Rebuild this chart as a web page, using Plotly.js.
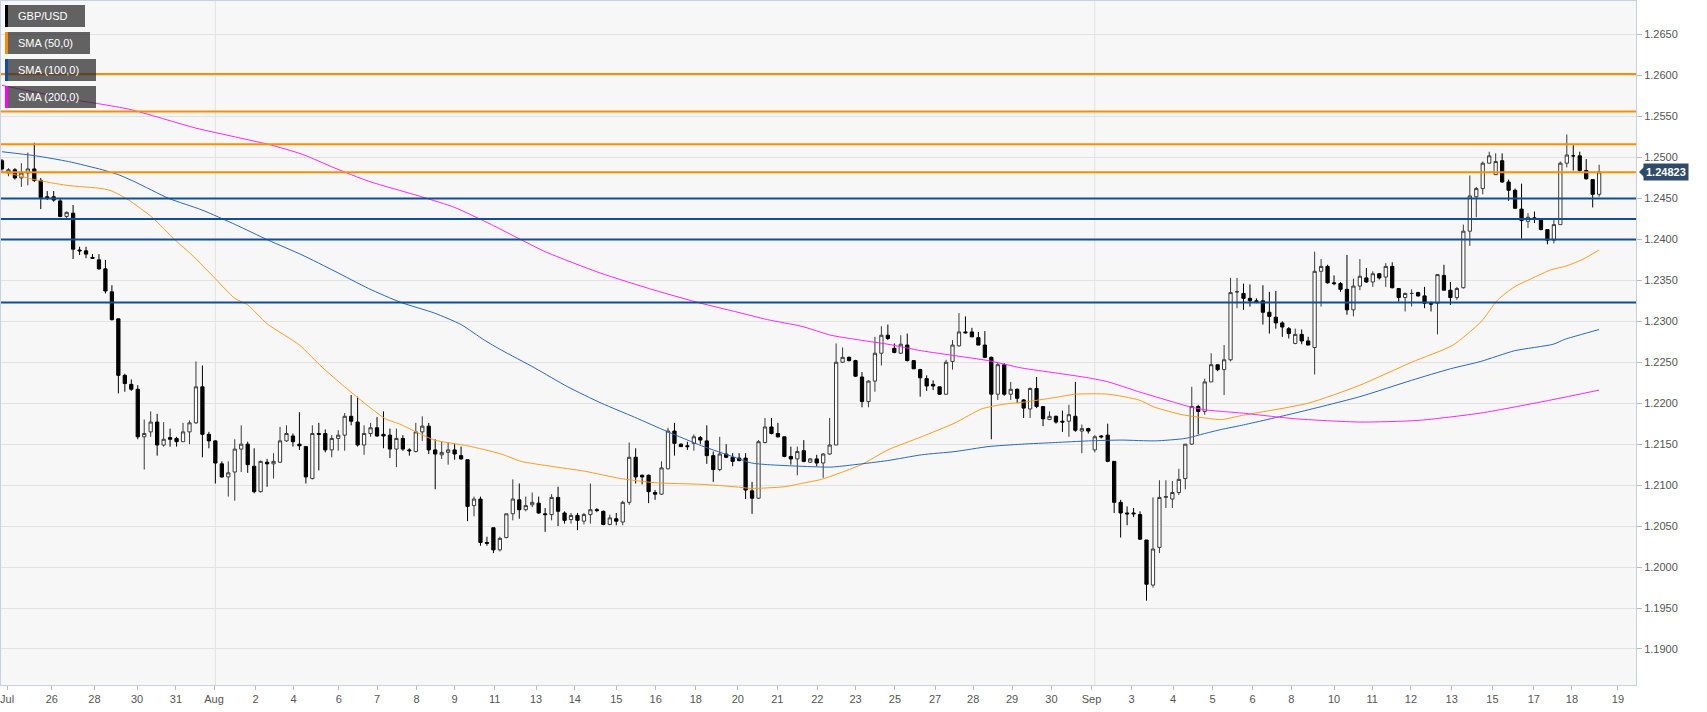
<!DOCTYPE html>
<html>
<head>
<meta charset="utf-8">
<script src="https://cdn.plot.ly/plotly-3.0.1.min.js"></script>
<style>
html,body{margin:0;padding:0;background:#fff;}
#chart{width:1707px;height:712px;}
</style>
</head>
<body>
<div id="chart"></div>
<script>
// ---- GBP/USD 4H candles (open, high, low, close) ----
const opens = [
1.2496,1.2481,1.2485,1.2475,1.2481,1.2486,1.2472,1.2452,1.2452,1.2447,
1.2428,1.2432,1.2387,1.2386,1.2378,1.2375,1.2364,1.2336,1.2303,1.2234,
1.2223,1.2217,1.2159,1.2165,1.2177,1.2149,1.2158,1.2157,1.2153,1.2165,
1.2176,1.2220,1.2162,1.2154,1.2126,1.2110,1.2116,1.2144,1.2150,1.2123,
1.2092,1.2128,1.2126,1.2128,1.2154,1.2160,1.2150,1.2147,1.2108,1.2163,
1.2163,1.2143,1.2157,1.2161,1.2184,1.2177,1.2149,1.2163,1.2170,1.2162,
1.2161,1.2144,1.2157,1.2143,1.2141,1.2165,1.2172,1.2143,1.2137,1.2140,
1.2143,1.2136,1.2131,1.2075,1.2083,1.2030,1.2048,1.2021,1.2036,1.2065,
1.2082,1.2070,1.2076,1.2078,1.2065,1.2064,1.2085,1.2066,1.2058,1.2063,
1.2056,1.2064,1.2070,1.2068,1.2052,1.2059,1.2055,1.2079,1.2134,1.2112,
1.2112,1.2091,1.2089,1.2120,1.2166,1.2150,1.2148,1.2151,1.2158,1.2154,
1.2136,1.2119,1.2138,1.2134,1.2133,1.2133,1.2093,1.2084,1.2152,1.2171,
1.2163,1.2159,1.2135,1.2132,1.2142,1.2128,1.2132,1.2127,1.2138,1.2149,
1.2250,1.2256,1.2252,1.2232,1.2202,1.2227,1.2261,1.2283,1.2267,1.2261,
1.2271,1.2252,1.2241,1.2230,1.2223,1.2220,1.2211,1.2251,1.2270,1.2287,
1.2287,1.2280,1.2271,1.2256,1.2211,1.2247,1.2211,1.2217,1.2204,1.2193,
1.2218,1.2196,1.2180,1.2184,1.2178,1.2178,1.2184,1.2166,1.2169,1.2143,
1.2160,1.2161,1.2129,1.2079,1.2066,1.2066,1.2064,1.2033,1.1978,1.2024,
1.2085,1.2083,1.2091,1.2108,1.2150,1.2196,1.2190,1.2226,1.2247,1.2241,
1.2253,1.2336,1.2334,1.2328,1.2325,1.2325,1.2311,1.2305,1.2298,1.2291,
1.2273,1.2284,1.2276,1.2268,1.2361,1.2367,1.2347,1.2346,1.2339,1.2314,
1.2343,1.2353,1.2348,1.2358,1.2354,1.2367,1.2340,1.2329,1.2334,1.2335,
1.2331,1.2322,1.2322,1.2356,1.2338,1.2329,1.2341,1.2410,1.2452,1.2462,
1.2493,1.2479,1.2496,1.2470,1.2460,1.2437,1.2422,1.2426,1.2425,1.2412,
1.2399,1.2418,1.2493,1.2502,1.2502,1.2484,1.2473,1.2455
];
const highs = [
1.2498,1.2487,1.2487,1.2493,1.2506,1.2518,1.2475,1.2459,1.2459,1.2450,
1.2434,1.2442,1.2391,1.2391,1.2382,1.2382,1.2375,1.2344,1.2303,1.2236,
1.2229,1.2222,1.2180,1.2190,1.2187,1.2177,1.2169,1.2159,1.2176,1.2179,
1.2251,1.2246,1.2165,1.2155,1.2129,1.2129,1.2156,1.2173,1.2153,1.2145,
1.2130,1.2132,1.2139,1.2171,1.2173,1.2163,1.2189,1.2147,1.2173,1.2176,
1.2168,1.2161,1.2167,1.2188,1.2210,1.2208,1.2173,1.2176,1.2183,1.2190,
1.2169,1.2169,1.2161,1.2145,1.2176,1.2184,1.2176,1.2156,1.2153,1.2152,
1.2150,1.2147,1.2131,1.2086,1.2086,1.2037,1.2048,1.2037,1.2065,1.2107,
1.2102,1.2086,1.2091,1.2086,1.2072,1.2089,1.2098,1.2068,1.2066,1.2066,
1.2066,1.2102,1.2072,1.2069,1.2064,1.2066,1.2081,1.2152,1.2145,1.2113,
1.2113,1.2094,1.2129,1.2170,1.2176,1.2151,1.2153,1.2162,1.2160,1.2173,
1.2141,1.2159,1.2150,1.2139,1.2139,1.2139,1.2104,1.2155,1.2182,1.2182,
1.2176,1.2159,1.2147,1.2147,1.2155,1.2133,1.2137,1.2139,1.2182,1.2273,
1.2268,1.2257,1.2253,1.2238,1.2228,1.2281,1.2294,1.2296,1.2273,1.2283,
1.2285,1.2252,1.2242,1.2234,1.2228,1.2220,1.2253,1.2277,1.2310,1.2306,
1.2292,1.2287,1.2288,1.2257,1.2249,1.2249,1.2226,1.2218,1.2205,1.2219,
1.2232,1.2196,1.2190,1.2185,1.2191,1.2198,1.2226,1.2174,1.2170,1.2161,
1.2161,1.2175,1.2129,1.2082,1.2074,1.2072,1.2068,1.2033,1.2085,1.2106,
1.2106,1.2105,1.2120,1.2150,1.2220,1.2198,1.2230,1.2261,1.2247,1.2271,
1.2353,1.2353,1.2346,1.2345,1.2328,1.2344,1.2336,1.2337,1.2300,1.2293,
1.2291,1.2290,1.2281,1.2385,1.2376,1.2369,1.2356,1.2348,1.2381,1.2352,
1.2376,1.2365,1.2361,1.2359,1.2371,1.2372,1.2340,1.2335,1.2339,1.2336,
1.2342,1.2324,1.2357,1.2369,1.2348,1.2342,1.2418,1.2478,1.2464,1.2495,
1.2507,1.2505,1.2505,1.2473,1.2462,1.2468,1.2432,1.2434,1.2426,1.2412,
1.2424,1.2495,1.2528,1.2515,1.2507,1.2498,1.2473,1.2491
];
const lows = [
1.2484,1.2477,1.2473,1.2464,1.2466,1.2470,1.2437,1.2448,1.2446,1.2427,
1.2426,1.2376,1.2381,1.2377,1.2376,1.2363,1.2334,1.2301,1.2212,1.2214,
1.2215,1.2156,1.2119,1.2159,1.2136,1.2147,1.2147,1.2147,1.2153,1.2150,
1.2175,1.2134,1.2145,1.2102,1.2109,1.2086,1.2081,1.2116,1.2115,1.2090,
1.2091,1.2098,1.2108,1.2127,1.2153,1.2147,1.2143,1.2102,1.2107,1.2118,
1.2140,1.2134,1.2142,1.2142,1.2173,1.2147,1.2137,1.2159,1.2159,1.2145,
1.2133,1.2122,1.2142,1.2136,1.2140,1.2154,1.2138,1.2095,1.2132,1.2125,
1.2131,1.2131,1.2056,1.2062,1.2026,1.2026,1.2017,1.2019,1.2035,1.2057,
1.2059,1.2068,1.2073,1.2065,1.2043,1.2057,1.2050,1.2053,1.2053,1.2045,
1.2052,1.2053,1.2067,1.2051,1.2051,1.2051,1.2051,1.2076,1.2102,1.2101,
1.2078,1.2082,1.2088,1.2119,1.2136,1.2147,1.2143,1.2142,1.2150,1.2126,
1.2104,1.2117,1.2133,1.2123,1.2129,1.2083,1.2065,1.2083,1.2151,1.2162,
1.2158,1.2134,1.2125,1.2112,1.2128,1.2127,1.2123,1.2109,1.2137,1.2149,
1.2249,1.2251,1.2232,1.2195,1.2195,1.2214,1.2246,1.2277,1.2261,1.2260,
1.2251,1.2242,1.2208,1.2215,1.2216,1.2210,1.2210,1.2241,1.2269,1.2285,
1.2281,1.2271,1.2255,1.2156,1.2204,1.2209,1.2204,1.2200,1.2182,1.2182,
1.2194,1.2172,1.2180,1.2175,1.2165,1.2159,1.2165,1.2139,1.2163,1.2140,
1.2157,1.2128,1.2066,1.2036,1.2051,1.2061,1.2033,1.1959,1.1975,1.2017,
1.2072,1.2072,1.2088,1.2095,1.2149,1.2162,1.2186,1.2226,1.2239,1.2210,
1.2251,1.2316,1.2314,1.2318,1.2322,1.2296,1.2285,1.2291,1.2281,1.2279,
1.2272,1.2272,1.2271,1.2235,1.2318,1.2346,1.2344,1.2336,1.2308,1.2306,
1.2338,1.2347,1.2342,1.2351,1.2342,1.2340,1.2324,1.2312,1.2318,1.2330,
1.2316,1.2312,1.2284,1.2338,1.2320,1.2326,1.2340,1.2392,1.2427,1.2455,
1.2493,1.2479,1.2469,1.2447,1.2437,1.2401,1.2414,1.2420,1.2411,1.2394,
1.2395,1.2418,1.2488,1.2484,1.2483,1.2473,1.2439,1.2452
];
const closes = [
1.2486,1.2485,1.2475,1.2481,1.2486,1.2472,1.2451,1.2451,1.2448,1.2428,
1.2433,1.2388,1.2386,1.2382,1.2377,1.2364,1.2337,1.2302,1.2234,1.2224,
1.2217,1.2159,1.2163,1.2177,1.2149,1.2156,1.2156,1.2153,1.2165,1.2176,
1.2220,1.2162,1.2154,1.2127,1.2110,1.2115,1.2144,1.2150,1.2125,1.2092,
1.2129,1.2126,1.2129,1.2154,1.2163,1.2153,1.2148,1.2110,1.2163,1.2162,
1.2143,1.2157,1.2161,1.2184,1.2178,1.2149,1.2163,1.2170,1.2160,1.2160,
1.2144,1.2157,1.2144,1.2142,1.2165,1.2172,1.2143,1.2138,1.2140,1.2143,
1.2138,1.2132,1.2074,1.2083,1.2030,1.2029,1.2021,1.2035,1.2065,1.2083,
1.2070,1.2075,1.2079,1.2066,1.2064,1.2085,1.2068,1.2057,1.2063,1.2057,
1.2064,1.2070,1.2069,1.2052,1.2060,1.2056,1.2079,1.2134,1.2110,1.2110,
1.2092,1.2089,1.2121,1.2166,1.2151,1.2147,1.2147,1.2159,1.2155,1.2136,
1.2119,1.2138,1.2134,1.2129,1.2130,1.2094,1.2084,1.2153,1.2171,1.2163,
1.2159,1.2135,1.2132,1.2141,1.2129,1.2132,1.2127,1.2138,1.2149,1.2250,
1.2256,1.2252,1.2233,1.2202,1.2227,1.2261,1.2283,1.2279,1.2262,1.2272,
1.2252,1.2242,1.2231,1.2221,1.2221,1.2211,1.2250,1.2271,1.2287,1.2286,
1.2281,1.2271,1.2256,1.2211,1.2247,1.2211,1.2217,1.2206,1.2194,1.2218,
1.2196,1.2181,1.2184,1.2177,1.2177,1.2186,1.2167,1.2169,1.2166,1.2159,
1.2159,1.2129,1.2079,1.2066,1.2065,1.2065,1.2034,1.1979,1.2022,1.2085,
1.2086,1.2091,1.2107,1.2150,1.2196,1.2190,1.2226,1.2247,1.2241,1.2253,
1.2335,1.2336,1.2328,1.2325,1.2324,1.2311,1.2306,1.2298,1.2293,1.2285,
1.2284,1.2276,1.2271,1.2361,1.2367,1.2347,1.2346,1.2339,1.2314,1.2343,
1.2355,1.2348,1.2358,1.2353,1.2367,1.2341,1.2329,1.2334,1.2334,1.2331,
1.2322,1.2321,1.2357,1.2338,1.2329,1.2340,1.2410,1.2453,1.2462,1.2493,
1.2502,1.2495,1.2470,1.2460,1.2438,1.2423,1.2427,1.2426,1.2412,1.2399,
1.2418,1.2493,1.2503,1.2502,1.2484,1.2474,1.2455,1.24823
];

// ---- moving averages (candle index, value) ----
const sma50X = [0,5,10,15.5,17,19.6,23.2,26.8,29.4,33,36,38,41,46,49.5,53,56.7,59.3,61.7,64.3,66.9,72,77.2,80.3,84.9,90.1,95.7,100.9,108.1,113.3,115.9,121,123.6,126.7,129.3,132.9,137,142.2,147.4,151.5,155.1,157.7,162.9,166,171.1,175.8,178.3,182.5,186,188.6,191.7,202,210,218,224.4,228.8,231.3,233.9,236.5,239.6,241.7,244.3,247];
const sma50Y = [1.2483,1.2473,1.2466,1.2462,1.2459,1.2448,1.2427,1.2399,1.2381,1.2352,1.2328,1.2320,1.2297,1.2271,1.2244,1.2220,1.2196,1.2181,1.2174,1.2164,1.2155,1.2148,1.2138,1.2129,1.2123,1.2117,1.2108,1.2103,1.2101,1.2098,1.2096,1.2098,1.2102,1.2107,1.2114,1.2125,1.2143,1.2159,1.2176,1.2193,1.2199,1.2201,1.2207,1.2211,1.2211,1.2204,1.2195,1.2186,1.2182,1.2180,1.2185,1.2200,1.2222,1.2250,1.2271,1.2300,1.2326,1.2342,1.2352,1.2363,1.2367,1.2375,1.2387];
const sma100X = [0,5.2,10.3,15.5,18,20.6,25.8,30.9,36.1,41.2,46.4,51.5,56.7,61.7,66.9,71,74.6,77.2,82.4,87.5,92.7,97.8,103,108.2,113.3,115.9,118.4,123.6,128.2,131.9,137,142.2,147.4,152.5,157.7,162.9,168,173.2,178.3,183,186,188.6,191.7,200,210,218,224,228.7,233.9,239.9,241.7,244.3,247];
const sma100Y = [1.2507,1.2502,1.2495,1.2485,1.2479,1.2470,1.2450,1.2436,1.2418,1.2399,1.2381,1.2361,1.2340,1.2323,1.2310,1.2296,1.2277,1.2265,1.2243,1.2220,1.2200,1.2183,1.2165,1.2148,1.2134,1.2127,1.2125,1.2123,1.2122,1.2125,1.2130,1.2137,1.2141,1.2147,1.2150,1.2152,1.2154,1.2155,1.2154,1.2157,1.2163,1.2168,1.2173,1.2188,1.2208,1.2228,1.2242,1.2251,1.2264,1.2272,1.2278,1.2284,1.2290];
const sma200X = [0,10,19.6,29.9,36.1,41.2,46.4,51.5,56.7,64.9,70,75.7,84,92.5,100.9,108.1,113.3,118.4,123.6,128.2,131.9,137,142.2,147.4,152.5,157.7,162.9,168,171.1,175.8,180.9,183.5,186,188.6,191.7,200,210,219,228.7,239.6,247];
const sma200Y = [1.2588,1.2572,1.2559,1.2536,1.2525,1.2516,1.2504,1.2487,1.2471,1.2452,1.2439,1.2418,1.2385,1.2359,1.2338,1.2322,1.2312,1.2302,1.2294,1.2283,1.2278,1.2272,1.2264,1.2258,1.2252,1.2243,1.2237,1.2231,1.2226,1.2214,1.2202,1.2196,1.2192,1.2190,1.2188,1.2181,1.2177,1.2179,1.2188,1.2204,1.2216];

// ---- horizontal levels ----
const levelsOrange = [1.2602, 1.2556, 1.2516, 1.2482];
const levelsBlue = [1.2450, 1.2425, 1.2400, 1.2323];

// ---- x-axis day labels (candle index of each label) ----
const tickText = ['Jul','26','28','30','31','Aug','2','4','6','7','8','9','11','13','14','15','16','18','20','21','22','23','25','27','28','29','30','Sep','3','4','5','6','8','10','11','12','13','15','17','18','19'];
const tickPos = [0.8,7.7,14.3,20.9,26.9,32.8,39.2,45.1,52.1,58.0,64.1,70.0,76.2,82.6,88.6,95.0,101.1,107.3,113.8,119.9,126.1,132.0,138.1,144.3,150.2,156.2,162.3,168.5,174.7,181.1,187.2,193.4,199.4,206.0,211.9,217.9,224.2,230.5,236.9,242.8,249.9];
const monthStarts = [33, 169];

// ---- legend entries ----
const legendNames = ['GBP/USD', 'SMA (50,0)', 'SMA (100,0)', 'SMA (200,0)'];
const legendColors = ['#000000', '#ff8c00', '#0b4ea2', '#ff00ff'];
const legendWidths = [77, 82, 88, 88];

const idx = opens.map((_, i) => i);
const lastClose = closes[closes.length - 1];

const FONT = 'Liberation Sans, Arial, sans-serif';

const traces = [
  {
    type: 'candlestick', x: idx, open: opens, high: highs, low: lows, close: closes,
    increasing: {line: {color: '#3a3a3a', width: 1}, fillcolor: '#ffffff'},
    decreasing: {line: {color: '#000000', width: 1}, fillcolor: '#000000'},
    whiskerwidth: 0, hoverinfo: 'skip', showlegend: false
  },
  {type: 'scatter', mode: 'lines', x: sma50X, y: sma50Y, line: {color: '#ff9a1f', width: 1, shape: 'spline', smoothing: 0.6}, hoverinfo: 'skip', showlegend: false},
  {type: 'scatter', mode: 'lines', x: sma100X, y: sma100Y, line: {color: '#2a67c0', width: 1, shape: 'spline', smoothing: 0.6}, hoverinfo: 'skip', showlegend: false},
  {type: 'scatter', mode: 'lines', x: sma200X, y: sma200Y, line: {color: '#ff22ff', width: 1, shape: 'spline', smoothing: 0.6}, hoverinfo: 'skip', showlegend: false}
];

const shapes = [];
monthStarts.forEach(m => shapes.push({type: 'line', xref: 'x', yref: 'paper', x0: m, x1: m, y0: 0, y1: 1, line: {color: '#e3e3e3', width: 1}, layer: 'below'}));
levelsOrange.forEach(v => shapes.push({type: 'line', xref: 'paper', yref: 'y', x0: 0, x1: 1, y0: v, y1: v, line: {color: '#ff8c00', width: 2}, layer: 'above'}));
levelsBlue.forEach(v => shapes.push({type: 'line', xref: 'paper', yref: 'y', x0: 0, x1: 1, y0: v, y1: v, line: {color: '#0b4ea2', width: 2}, layer: 'above'}));

const annotations = [];
legendNames.forEach((name, k) => {
  const top = -4 - 27 * k, bot = -26 - 27 * k;
  shapes.push({type: 'rect', xref: 'paper', yref: 'paper', xsizemode: 'pixel', ysizemode: 'pixel', xanchor: 0, yanchor: 1,
    x0: 7, x1: 7 + legendWidths[k], y0: bot, y1: top, fillcolor: 'rgba(40,40,40,0.72)', line: {width: 0}, layer: 'above'});
  shapes.push({type: 'rect', xref: 'paper', yref: 'paper', xsizemode: 'pixel', ysizemode: 'pixel', xanchor: 0, yanchor: 1,
    x0: 4, x1: 7, y0: bot, y1: top, fillcolor: legendColors[k], line: {width: 0}, layer: 'above'});
  annotations.push({xref: 'paper', yref: 'paper', x: 0, y: 1, xanchor: 'left', yanchor: 'middle', xshift: 15, yshift: -15 - 27 * k,
    text: name, showarrow: false, font: {family: FONT, size: 11, color: '#ffffff'}});
});

// current price tag
shapes.push({type: 'path', xref: 'paper', yref: 'y', xsizemode: 'pixel', ysizemode: 'pixel', xanchor: 1, yanchor: lastClose,
  path: 'M 3 0 L 8 5 L 8 -5 Z', fillcolor: '#2f4a6b', line: {width: 0}, layer: 'above'});
annotations.push({xref: 'paper', yref: 'y', x: 1, y: lastClose, xanchor: 'left', yanchor: 'middle', xshift: 7,
  text: '<b>' + lastClose.toFixed(5) + '</b>', showarrow: false, bgcolor: '#2f4a6b', borderpad: 2,
  font: {family: FONT, size: 11, color: '#ffffff'}});

const layout = {
  width: 1707, height: 712,
  margin: {l: 1, r: 71, t: 1, b: 27, pad: 0},
  paper_bgcolor: '#ffffff', plot_bgcolor: '#f7f7f7',
  font: {family: FONT, size: 11, color: '#555555'},
  showlegend: false,
  boxgap: 0.28,
  xaxis: {
    range: [-0.15, 252.7], rangeslider: {visible: false}, showgrid: false, zeroline: false,
    tickmode: 'array', tickvals: tickPos, ticktext: tickText,
    ticks: 'outside', ticklen: 4, tickcolor: '#bbbbbb', tickfont: {family: FONT, size: 11, color: '#555555'},
    showline: true, linecolor: '#c8d0e6', linewidth: 1, mirror: true, fixedrange: true
  },
  yaxis: {
    side: 'right', range: [1.1856, 1.2691], dtick: 0.005, tick0: 1.19, tickformat: '.4f',
    showgrid: true, gridcolor: '#e2e2e2', gridwidth: 1, zeroline: false,
    ticks: 'outside', ticklen: 5, tickcolor: '#bbbbbb', tickfont: {family: FONT, size: 11, color: '#555555'},
    showline: true, linecolor: '#c8d0e6', linewidth: 1, mirror: true, fixedrange: true
  },
  shapes: shapes,
  annotations: annotations
};

Plotly.newPlot('chart', traces, layout, {displayModeBar: false, staticPlot: true});
</script>
</body>
</html>
